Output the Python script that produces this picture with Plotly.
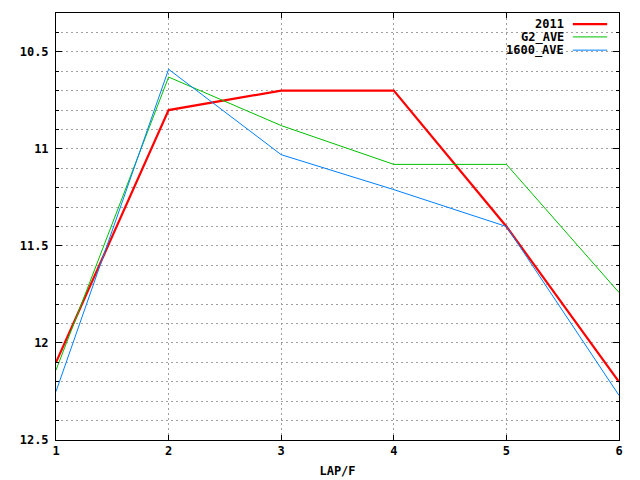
import plotly.graph_objects as go

# lap times per lap/furlong
laps = [1, 2, 3, 4, 5, 6]
y_2011 = [12.10, 10.80, 10.70, 10.70, 11.40, 12.20]
y_g2_ave = [12.14, 10.63, 10.88, 11.08, 11.08, 11.74]
y_1600_ave = [12.25, 10.59, 11.03, 11.21, 11.40, 12.27]

series_names = ["2011", "G2_AVE", "1600_AVE"]
series_colors = ["#ff0000", "#00c000", "#0080ff"]
series_widths = [2.2, 1, 1]

y_tickvals = [10.5, 11, 11.5, 12, 12.5]
y_ticktext = ["10.5", "11", "11.5", "12", "12.5"]

FONT = dict(family="DejaVu Sans Mono", size=12, color="black", weight="bold")
GRID = "#a0a0a0"
DASH = "2px,3px"

fig = go.Figure()
for name, ys, color, width in zip(series_names, [y_2011, y_g2_ave, y_1600_ave],
                                  series_colors, series_widths):
    fig.add_trace(go.Scatter(
        x=laps, y=ys, mode="lines", name=name,
        line=dict(color=color, width=width),
        showlegend=False,
    ))

# gnuplot-style key: text right-aligned, line sample to the right of it
row_y = [0.974, 0.944, 0.913]
for name, color, width, yy in zip(series_names, series_colors, series_widths, row_y):
    fig.add_annotation(
        x=0.904, y=yy, xref="paper", yref="paper", text=name,
        showarrow=False, xanchor="right", yanchor="middle",
        height=14, borderpad=0, font=FONT,
    )
    fig.add_shape(
        type="line", xref="paper", yref="paper",
        x0=0.918, x1=0.979, y0=yy, y1=yy,
        line=dict(color=color, width=width),
    )

# page body adds an 8px offset, so margins are compensated for it
fig.update_layout(
    width=640, height=480,
    margin=dict(l=48, r=29, t=5, b=48),
    plot_bgcolor="white", paper_bgcolor="white",
    font=FONT,
    showlegend=False,
)

fig.update_xaxes(
    range=[1, 6], tickvals=laps, ticks="inside", ticklen=5,
    tickcolor="black", showline=True, linecolor="black", linewidth=1,
    mirror="ticks", showgrid=True, gridcolor=GRID, griddash=DASH,
    gridwidth=1, zeroline=False, tickfont=FONT,
    title=dict(text="LAP/F", font=FONT, standoff=9),
)

fig.update_yaxes(
    range=[12.5, 10.3], tickvals=y_tickvals, ticktext=y_ticktext,
    ticks="inside", ticklen=6, tickcolor="black",
    showline=True, linecolor="black", linewidth=1, mirror="ticks",
    showgrid=True, gridcolor=GRID, griddash=DASH, gridwidth=1,
    zeroline=False, tickfont=FONT, ticklabelstandoff=4,
    minor=dict(dtick=0.1, tick0=10.3, ticks="inside", ticklen=3,
               tickcolor="black", showgrid=True, gridcolor=GRID,
               griddash=DASH, gridwidth=1),
)

fig.write_html("out.html")
